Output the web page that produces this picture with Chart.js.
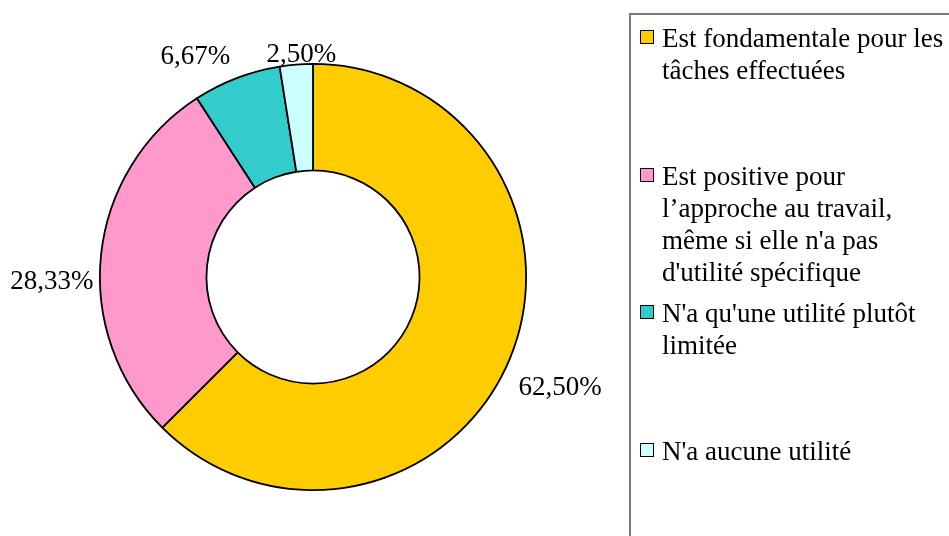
<!DOCTYPE html>
<html>
<head>
<meta charset="utf-8">
<script src="https://cdn.jsdelivr.net/npm/chart.js@4.4.1/dist/chart.umd.min.js"></script>
<style>
  html, body { margin: 0; padding: 0; background: #fff; }
  #wrap { position: relative; width: 949px; height: 536px; overflow: hidden; }
  #c { position: absolute; left: 0; top: 0; }
  #legend {
    position: absolute; left: 629px; top: 13px; width: 400px; height: 600px;
    border: 2px solid #7a7a7a; box-sizing: border-box;
    font-family: "Liberation Serif", serif; font-size: 27px; color: #000;
  }
  .item { position: absolute; left: 9px; display: flex; align-items: flex-start; }
  .sw { width: 12px; height: 12px; border: 1.6px solid #000; margin-top: 8px; margin-right: 8px; flex: none; }
  .txt { line-height: 32px; white-space: nowrap; }
</style>
</head>
<body>
<div id="wrap">
  <canvas id="c" width="949" height="536"></canvas>
  <div id="legend"></div>
</div>
<script>
const categories = [
  ["Est fondamentale pour les", "tâches effectuées"],
  ["Est positive pour", "l’approche au travail,", "même si elle n'a pas", "d'utilité spécifique"],
  ["N'a qu'une utilité plutôt", "limitée"],
  ["N'a aucune utilité"]
];
const values = [62.50, 28.33, 6.67, 2.50];
const colors = ["#FFCC00", "#FF99CC", "#33CCCC", "#CCFFFF"];

function fmt(v) { return v.toFixed(2).replace('.', ',') + '%'; }

const outsideLabels = {
  id: 'outsideLabels',
  afterDatasetsDraw(chart, args, opts) {
    const ctx = chart.ctx;
    const meta = chart.getDatasetMeta(0);
    const ds = chart.data.datasets[0];
    const nudge = opts.nudge || [];
    ctx.save();
    ctx.font = '27px "Liberation Serif", serif';
    ctx.fillStyle = '#000';
    ctx.textAlign = 'center';
    ctx.textBaseline = 'middle';
    const gap = 12;
    meta.data.forEach((arc, i) => {
      const p = arc.getProps(['x', 'y', 'startAngle', 'endAngle', 'outerRadius'], true);
      const mid = (p.startAngle + p.endAngle) / 2;
      const cx = Math.cos(mid), cy = Math.sin(mid);
      const txt = fmt(ds.data[i]);
      const w = ctx.measureText(txt).width;
      const h = 20;
      const ext = Math.abs(cx) * w / 2 + Math.abs(cy) * h / 2;
      const d = p.outerRadius + gap + ext;
      const n = nudge[i] || [0, 0];
      ctx.fillText(txt, p.x + cx * d + n[0], p.y + cy * d + n[1]);
    });
    ctx.restore();
  }
};

new Chart(document.getElementById('c'), {
  type: 'doughnut',
  data: {
    labels: categories,
    datasets: [{
      data: values,
      backgroundColor: colors,
      borderColor: '#000',
      borderWidth: 1.8,
      borderAlign: 'center'
    }]
  },
  options: {
    responsive: false,
    animation: false,
    cutout: '50%',
    layout: { padding: { left: 99, top: 63, right: 422, bottom: 45 } },
    plugins: {
      legend: { display: false },
      tooltip: { enabled: false },
      outsideLabels: { nudge: [[0, 9], [5, 33], [-29, 10], [7, 15]] }
    }
  },
  plugins: [outsideLabels]
});

// HTML legend built from the same arrays
const leg = document.getElementById('legend');
const slot = 137.7;
categories.forEach((lines, i) => {
  const it = document.createElement('div');
  it.className = 'item';
  it.style.top = (7 + i * slot) + 'px';
  const sw = document.createElement('div');
  sw.className = 'sw';
  sw.style.background = colors[i];
  const t = document.createElement('div');
  t.className = 'txt';
  lines.forEach((l, j) => {
    if (j) t.appendChild(document.createElement('br'));
    t.appendChild(document.createTextNode(l));
  });
  it.appendChild(sw);
  it.appendChild(t);
  leg.appendChild(it);
});
</script>
</body>
</html>
